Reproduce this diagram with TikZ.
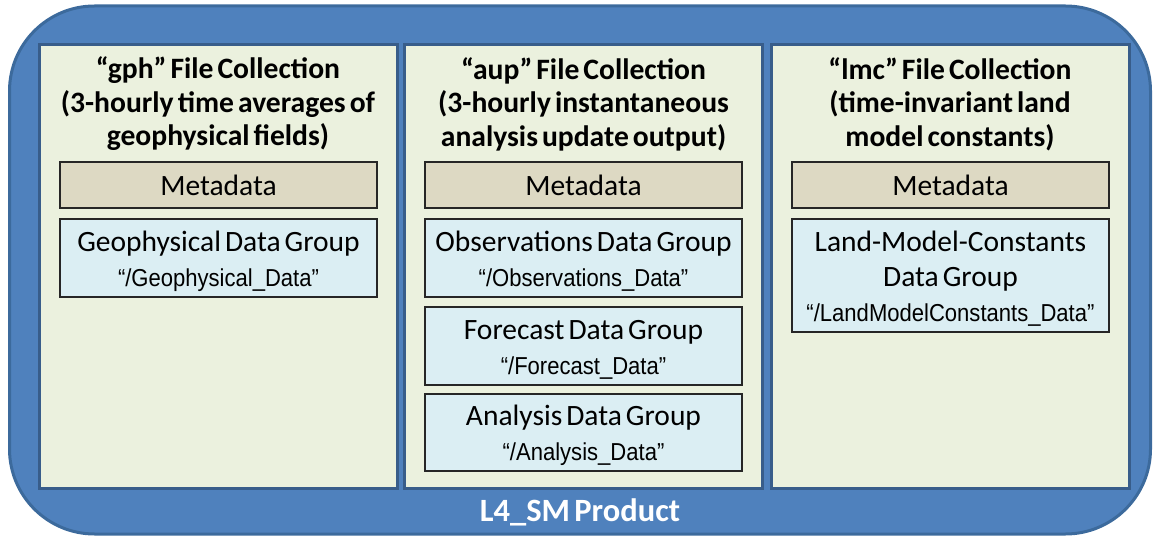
\documentclass[tikz,border=0pt]{standalone}
\usepackage{fontspec}
\setmainfont[WordSpace=0.6]{Carlito}
\newfontfamily\arialn[FakeStretch=0.9]{Liberation Sans}
\definecolor{prodfill}{HTML}{4F81BD}
\definecolor{prodline}{HTML}{3C6A9C}
\definecolor{colfill}{HTML}{EBF1DE}
\definecolor{colline}{HTML}{385D8A}
\definecolor{metafill}{HTML}{DDD9C3}
\definecolor{datafill}{HTML}{DBEEF3}
\tikzset{
  product/.style={draw=prodline, line width=3pt, fill=prodfill, rounded corners=85pt, minimum width=1141pt, minimum height=528pt, inner sep=0pt},
  collection/.style={draw=colline, line width=3pt, fill=colfill, minimum width=358pt, minimum height=443pt, inner sep=0pt},
  coltitle/.style={align=center, font=\bfseries\fontsize{29.6}{33.5}\selectfont, inner sep=0pt},
  metabox/.style={draw=black!85, line width=1.2pt, fill=metafill, minimum width=317pt, minimum height=46pt, inner sep=0pt, font=\fontsize{29.5}{34}\selectfont},
  databox/.style={draw=black!85, line width=1.2pt, fill=datafill, minimum width=317pt, inner sep=0pt, align=center, font=\fontsize{29.5}{35}\selectfont},
}
\newcommand{\grpname}[1]{{\arialn\fontsize{24.5}{35}\selectfont #1}}
\newcommand{\lift}{\rule{0pt}{27pt}}
\begin{document}
\begin{tikzpicture}[x=1pt,y=-1pt]
\useasboundingbox (0,0) rectangle (1154,537);
\node[product] (prod) at (580,270) {};
% columns
\node[collection] (c1) at (218,266.5) {};
\node[collection] (c2) at (583.5,266.5) {};
\node[collection] (c3) at (950,266.5) {};
% titles
\node[coltitle] (t1) at (218,104) {“gph” File Collection\\(3-hourly time averages of\\geophysical fields)};
\node[coltitle] (t2) at (583.5,104) {“aup” File Collection\\(3-hourly instantaneous\\analysis update output)};
\node[coltitle] (t3) at (950,104) {“lmc” File Collection\\(time-invariant land\\model constants)};
% metadata
\node[metabox] (m1) at (218.5,185) {Metadata};
\node[metabox] (m2) at (583.5,185) {Metadata};
\node[metabox] (m3) at (950.5,185) {Metadata};
% data groups
\node[databox, minimum height=78pt] (g1) at (218.5,258) {\lift Geophysical Data Group\\\grpname{“/Geophysical\_Data”}};
\node[databox, minimum height=78pt] (g2) at (583.5,258) {\lift Observations Data Group\\\grpname{“/Observations\_Data”}};
\node[databox, minimum height=78pt] (g3) at (583.5,346) {\lift Forecast Data Group\\\grpname{“/Forecast\_Data”}};
\node[databox, minimum height=77pt] (g4) at (583.5,432.5) {\lift Analysis Data Group\\\grpname{“/Analysis\_Data”}};
\node[databox, minimum height=113pt] (g5) at (950.5,275.5) {\lift Land-Model-Constants\\Data Group\\\grpname{“/LandModelConstants\_Data”}};
% product label
\node[text=white, font=\bfseries\fontsize{32.5}{34}\selectfont, inner sep=0pt] (pl) at (580,512) {L4\_SM Product};
\end{tikzpicture}
\end{document}
